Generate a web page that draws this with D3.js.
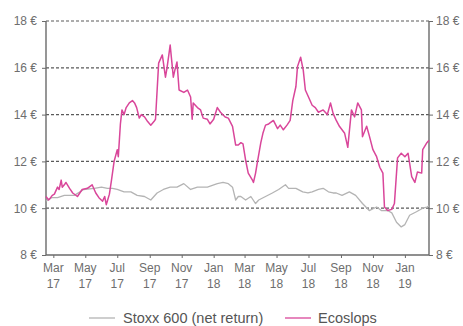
<!DOCTYPE html>
<html><head><meta charset="utf-8">
<script src="https://cdn.jsdelivr.net/npm/d3@7"></script>
<style>
html,body{margin:0;padding:0;background:#fff;}
svg{display:block;font-family:"Liberation Sans",Arial,sans-serif;}
</style></head>
<body><svg id="c" width="463" height="326"></svg>
<script>
const ecoDates = ["2017-02-15","2017-02-20","2017-02-22","2017-02-27","2017-03-03","2017-03-09","2017-03-12","2017-03-16","2017-03-18","2017-03-22","2017-03-25","2017-04-01","2017-04-07","2017-04-16","2017-04-25","2017-05-05","2017-05-14","2017-05-21","2017-05-27","2017-06-03","2017-06-07","2017-06-10","2017-06-12","2017-06-16","2017-06-20","2017-06-25","2017-07-01","2017-07-03","2017-07-05","2017-07-07","2017-07-10","2017-07-14","2017-07-18","2017-07-24","2017-07-30","2017-08-03","2017-08-07","2017-08-12","2017-08-16","2017-08-22","2017-08-28","2017-09-03","2017-09-09","2017-09-12","2017-09-18","2017-09-25","2017-10-01","2017-10-04","2017-10-10","2017-10-16","2017-10-19","2017-10-23","2017-10-27","2017-11-05","2017-11-12","2017-11-18","2017-11-21","2017-11-23","2017-12-01","2017-12-07","2017-12-12","2017-12-20","2017-12-25","2018-01-01","2018-01-08","2018-01-14","2018-01-23","2018-01-29","2018-02-06","2018-02-12","2018-02-17","2018-02-22","2018-02-26","2018-03-03","2018-03-08","2018-03-16","2018-03-18","2018-03-22","2018-03-25","2018-04-01","2018-04-05","2018-04-10","2018-04-16","2018-04-25","2018-05-03","2018-05-08","2018-05-14","2018-05-21","2018-05-27","2018-06-01","2018-06-07","2018-06-10","2018-06-16","2018-06-21","2018-06-25","2018-07-01","2018-07-08","2018-07-14","2018-07-20","2018-07-29","2018-08-06","2018-08-12","2018-08-17","2018-08-23","2018-08-29","2018-09-08","2018-09-14","2018-09-21","2018-09-27","2018-10-03","2018-10-10","2018-10-12","2018-10-20","2018-10-25","2018-11-01","2018-11-08","2018-11-14","2018-11-20","2018-11-23","2018-11-29","2018-12-07","2018-12-12","2018-12-18","2018-12-25","2019-01-01","2019-01-07","2019-01-14","2019-01-20","2019-01-25","2019-02-02","2019-02-04","2019-02-12","2019-02-16"];
const ecoValues = [10.5,10.35,10.4,10.55,10.6,10.9,10.8,11.2,10.9,11.0,11.1,10.85,10.65,10.5,10.8,10.85,11.0,10.65,10.45,10.3,10.5,10.15,10.3,10.6,11.2,12.0,12.5,12.2,12.9,13.6,14.2,14.0,14.3,14.5,14.6,14.5,14.3,13.85,14.0,13.9,13.7,13.55,13.7,13.8,16.2,16.55,15.6,16.0,16.97,15.6,15.9,16.25,15.05,14.95,15.05,14.75,13.8,14.5,14.3,14.2,13.85,13.8,13.6,13.8,14.3,14.1,13.9,13.85,13.5,12.7,12.7,12.8,12.75,12.05,11.5,11.2,11.1,11.5,11.9,12.8,13.2,13.55,13.6,13.75,13.4,13.55,13.35,13.55,13.75,14.6,15.2,16.05,16.45,15.9,15.05,14.75,14.4,14.3,14.1,14.2,14.0,14.5,14.05,13.75,13.5,13.2,12.6,14.2,13.9,14.5,14.2,13.05,13.5,13.1,12.5,12.2,11.75,11.5,10.05,9.9,9.95,10.2,12.15,12.35,12.2,12.35,11.35,11.1,11.55,11.5,12.5,12.8,12.9];
const stoxxDates = ["2017-02-15","2017-02-26","2017-03-09","2017-03-22","2017-04-10","2017-04-28","2017-05-18","2017-06-01","2017-06-12","2017-06-22","2017-07-01","2017-07-14","2017-07-27","2017-08-08","2017-08-22","2017-09-03","2017-09-15","2017-09-27","2017-10-10","2017-10-23","2017-11-05","2017-11-18","2017-12-01","2017-12-20","2018-01-08","2018-01-19","2018-01-29","2018-02-06","2018-02-12","2018-02-17","2018-02-22","2018-03-03","2018-03-13","2018-03-22","2018-03-28","2018-04-10","2018-04-23","2018-05-05","2018-05-18","2018-05-24","2018-06-07","2018-06-20","2018-06-30","2018-07-08","2018-07-20","2018-07-29","2018-08-08","2018-08-17","2018-08-23","2018-09-03","2018-09-17","2018-09-29","2018-10-12","2018-10-25","2018-11-08","2018-11-17","2018-11-29","2018-12-07","2018-12-16","2018-12-25","2019-01-01","2019-01-10","2019-01-23","2019-02-04","2019-02-12","2019-02-16"];
const stoxxValues = [10.3,10.45,10.45,10.55,10.55,10.8,10.85,10.9,10.85,10.85,10.8,10.7,10.7,10.55,10.5,10.35,10.65,10.8,10.9,10.9,11.05,10.8,10.9,10.9,11.05,11.1,11.05,10.9,10.35,10.5,10.5,10.35,10.5,10.2,10.35,10.5,10.65,10.8,11.0,10.85,10.85,10.7,10.65,10.7,10.8,10.85,10.7,10.65,10.65,10.55,10.7,10.55,10.2,9.9,10.05,9.9,9.9,9.8,9.4,9.2,9.3,9.7,9.85,10.0,10.05,10.1];
const yTicks = [8,10,12,14,16,18];
const xTickDates = ["2017-03-01","2017-05-01","2017-07-01","2017-09-01","2017-11-01","2018-01-01","2018-03-01","2018-05-01","2018-07-01","2018-09-01","2018-11-01","2019-01-01"];
const xTickMonths = ["Mar","May","Jul","Sep","Nov","Jan","Mar","May","Jul","Sep","Nov","Jan"];
const xTickYears = ["17","17","17","17","17","18","18","18","18","18","18","19"];
const seriesNames = ["Stoxx 600 (net return)","Ecoslops"];
const seriesColors = ["#b4b4b4","#d9469a"];

const parse = d3.timeParse("%Y-%m-%d");
const svg = d3.select("#c");
const L = 46, R = 429, T = 21, B = 255;
const x = d3.scaleTime().domain([parse("2017-02-15"), parse("2019-02-16")]).range([L, R]);
const y = d3.scaleLinear().domain([8, 18]).range([B, T]);
const textCol = "#6e6e6e";

// grid
svg.append("g").selectAll("line").data(yTicks.filter(v => v > 8)).join("line")
  .attr("x1", L).attr("x2", R).attr("y1", d => y(d)).attr("y2", d => y(d))
  .attr("stroke", "#5a5a5a").attr("stroke-width", 1.2).attr("stroke-dasharray", "3,2");

// left axis
const yl = svg.append("g").attr("transform", `translate(${L},0)`)
  .call(d3.axisLeft(y).tickValues(yTicks).tickSize(4).tickPadding(5).tickFormat(d => d + " €"));
// right axis
const yr = svg.append("g").attr("transform", `translate(${R},0)`)
  .call(d3.axisRight(y).tickValues(yTicks).tickSize(4).tickPadding(3).tickFormat(d => d + " €"));
// bottom axis
const xb = svg.append("g").attr("transform", `translate(0,${B})`)
  .call(d3.axisBottom(x).tickValues(xTickDates.map(parse)).tickSize(3).tickFormat(""));
[yl, yr, xb].forEach(g => {
  g.select(".domain").attr("stroke", "#6a6a6a").attr("stroke-width", 1.4);
  g.selectAll(".tick line").attr("stroke", "#6a6a6a");
  g.selectAll("text").attr("fill", textCol).attr("font-size", 12).attr("font-family", "Liberation Sans, Arial, sans-serif");
});
xb.select(".domain").attr("d", `M${L},0H${R}`);
yl.select(".domain").attr("d", `M0,${B}V${T}`);
yr.select(".domain").attr("d", `M0,${B}V${T}`);

// x labels two lines
const xl = svg.append("g").selectAll("text").data(xTickDates).join("text")
  .attr("x", d => x(parse(d))).attr("y", B + 17)
  .attr("text-anchor", "middle").attr("fill", textCol).attr("font-size", 12);
xl.append("tspan").attr("x", d => x(parse(d))).attr("dy", 0).text((d, i) => xTickMonths[i]);
xl.append("tspan").attr("x", d => x(parse(d))).attr("dy", 16).text((d, i) => xTickYears[i]);

// lines
const line = d3.line().x(d => x(d[0])).y(d => y(d[1]));
const stoxx = stoxxDates.map((d, i) => [parse(d), stoxxValues[i]]);
const eco = ecoDates.map((d, i) => [parse(d), ecoValues[i]]);
svg.append("path").datum(stoxx).attr("d", line).attr("fill", "none")
  .attr("stroke", seriesColors[0]).attr("stroke-width", 1.3).attr("stroke-linejoin", "round");
svg.append("path").datum(eco).attr("d", line).attr("fill", "none")
  .attr("stroke", seriesColors[1]).attr("stroke-width", 1.5).attr("stroke-linejoin", "round");

// legend
const lg = svg.append("g");
const legX = [[89, 115, 123], [285, 311, 318]];
seriesNames.forEach((n, i) => {
  lg.append("line").attr("x1", legX[i][0]).attr("x2", legX[i][1]).attr("y1", 318).attr("y2", 318)
    .attr("stroke", seriesColors[i]).attr("stroke-width", 1.3);
  lg.append("text").attr("x", legX[i][2]).attr("y", 323).attr("fill", "#555")
    .attr("font-size", 14.5).text(n);
});
</script></body></html>
